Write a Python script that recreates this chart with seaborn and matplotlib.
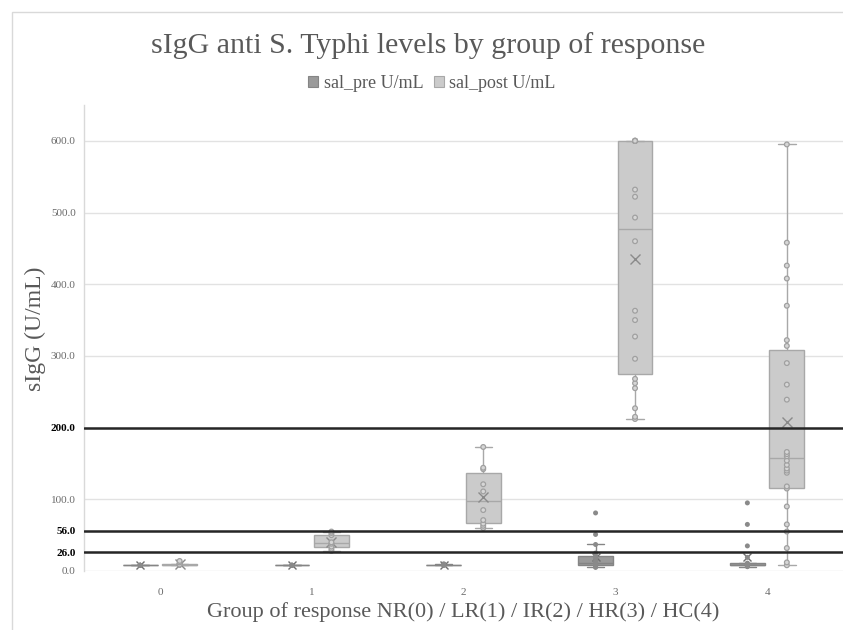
import numpy as np
import pandas as pd
import matplotlib
matplotlib.use("Agg")
import matplotlib.pyplot as plt
from matplotlib.patches import Rectangle
import seaborn as sns

# ---------------- data ----------------
groups = ["0", "1", "2", "3", "4"]
series_names = ["sal_pre U/mL", "sal_post U/mL"]

pre_g0 = [8, 8, 8, 8, 8, 8]
post_g0 = [9, 9, 9, 9, 9, 9, 12, 14]
pre_g1 = [8, 8, 8, 8, 8]
post_g1 = [28, 31, 34, 38, 40, 50, 53, 55]
pre_g2 = [8, 8, 9, 9, 9, 10]
post_g2 = [60, 63, 66, 71, 85, 111, 121, 142, 144, 173]
pre_g3 = [5, 6, 7, 7, 8, 8, 9, 10, 11, 12, 14, 18, 21, 25, 37, 51, 81]
post_g3 = [212, 215, 227, 255, 262, 268, 296, 327, 350, 363, 460, 493, 522, 532,
           600, 600, 600, 600, 600, 600, 600, 600]
pre_g4 = [6, 7, 8, 8, 8, 8, 8, 8, 8, 8, 9, 10, 11, 19, 35, 65, 95]
post_g4 = [8, 12, 32, 55, 65, 90, 115, 118, 137, 140, 143, 148, 154, 160, 163, 166,
           239, 260, 290, 314, 322, 370, 408, 426, 458, 595]

thresholds = [26, 56, 200]
ytick_values = [0, 26, 56, 100, 200, 300, 400, 500, 600]

title = "sIgG anti S. Typhi levels by group of response"
ylabel = "sIgG (U/mL)"
xlabel = "Group of response NR(0) / LR(1) / IR(2) / HR(3) / HC(4)"

pre_vals = [pre_g0, pre_g1, pre_g2, pre_g3, pre_g4]
post_vals = [post_g0, post_g1, post_g2, post_g3, post_g4]

rows = []
for g, pv, qv in zip(groups, pre_vals, post_vals):
    rows += [(g, series_names[0], v) for v in pv]
    rows += [(g, series_names[1], v) for v in qv]
df = pd.DataFrame(rows, columns=["group", "series", "value"])

# ---------------- style ----------------
sns.set_style("white")
SERIF = ["Liberation Serif", "DejaVu Serif"]
plt.rcParams["font.family"] = SERIF

pre_fill, post_fill = "#9a9a9a", "#cbcbcb"
pre_edge, post_edge = "#858585", "#a8a8a8"
txt_gray = "#595959"

fig, ax = plt.subplots(figsize=(8.43, 6.30), dpi=100)
fig.subplots_adjust(left=84 / 843, right=1.0, bottom=1 - 571 / 630, top=1 - 105 / 630)

# figure border (chart area)
fig.patches.append(Rectangle((12 / 843, -0.2), 1.5, 1.2 - 12 / 630, transform=fig.transFigure,
                             fill=False, edgecolor="#d9d9d9", lw=1.0, zorder=0))

box_common = dict(x="group", y="value", hue="series", order=groups, hue_order=series_names,
                  palette={series_names[0]: pre_fill, series_names[1]: post_fill},
                  width=0.52, gap=0.12, saturation=1, dodge=True, showfliers=False,
                  showmeans=True, legend=False, ax=ax)

sns.boxplot(data=df[df.series == series_names[0]], linecolor=pre_edge, linewidth=1,
            meanprops=dict(marker="x", markeredgecolor="#6f6f6f", markersize=6, markeredgewidth=1),
            **box_common)
sns.boxplot(data=df[df.series == series_names[1]], linecolor=post_edge, linewidth=1,
            meanprops=dict(marker="x", markeredgecolor="#8a8a8a", markersize=7, markeredgewidth=1),
            **box_common)

n_before = len(ax.collections)
strip_common = dict(x="group", y="value", hue="series", order=groups, hue_order=series_names,
                    dodge=True, jitter=False, legend=False, ax=ax, zorder=3)
sns.stripplot(data=df[df.series == series_names[0]],
              palette={series_names[0]: "#8a8a8a", series_names[1]: "#8a8a8a"},
              size=3.6, linewidth=0, **strip_common)
sns.stripplot(data=df[df.series == series_names[1]],
              palette={series_names[0]: "#d6d6d6", series_names[1]: "#d6d6d6"},
              size=3.4, linewidth=0.9, edgecolor="#a0a0a0", **strip_common)
# align the dodged points with the (narrower) dodged boxes
for coll in ax.collections[n_before:]:
    off = np.asarray(coll.get_offsets()).copy()
    if len(off):
        c = np.round(off[:, 0])
        off[:, 0] = c + (off[:, 0] - c) * 0.65
        coll.set_offsets(off)

for t in thresholds:
    ax.axhline(t, color="#262626", lw=1.8, zorder=4)

ax.set_ylim(0, 650)
ax.set_xlim(-0.5, 4.5)
ax.set_yticks(ytick_values)
ax.set_yticklabels([f"{v:.1f}" for v in ytick_values])
ax.yaxis.grid(True, color="#e2e2e2", lw=1)
ax.xaxis.grid(False)
ax.set_axisbelow(True)
ax.tick_params(axis="both", length=0, labelsize=8, colors="#6a6a6a")
ax.tick_params(axis="y", pad=6)
ax.tick_params(axis="x", pad=12)
for lab, v in zip(ax.get_yticklabels(), ytick_values):
    if v in thresholds:
        lab.set_fontweight("bold")
        lab.set_color("black")

for s in ["top", "right", "bottom"]:
    ax.spines[s].set_visible(False)
ax.spines["left"].set_color("#d9d9d9")
ax.spines["left"].set_linewidth(1)

ax.set_ylabel(ylabel, fontsize=17, color=txt_gray)
ax.yaxis.set_label_coords(-0.05, 0.52)
ax.set_xlabel(xlabel, fontsize=16, color=txt_gray)
ax.xaxis.set_label_coords(0.5, -0.066)

fig.text(428 / 843, 1 - 46 / 630, title, ha="center", va="center", fontsize=21.5, color=txt_gray)

handles = [Rectangle((0, 0), 1, 1, facecolor=pre_fill, edgecolor=pre_edge, lw=0.8),
           Rectangle((0, 0), 1, 1, facecolor=post_fill, edgecolor=post_edge, lw=0.8)]
fig.legend(handles, series_names, loc="center", bbox_to_anchor=(432 / 843, 1 - 83 / 630),
           ncol=2, frameon=False, fontsize=13, handlelength=0.55, handleheight=0.55,
           handletextpad=0.3, columnspacing=0.6, labelcolor=txt_gray)

fig.savefig("out.png", dpi=100)
